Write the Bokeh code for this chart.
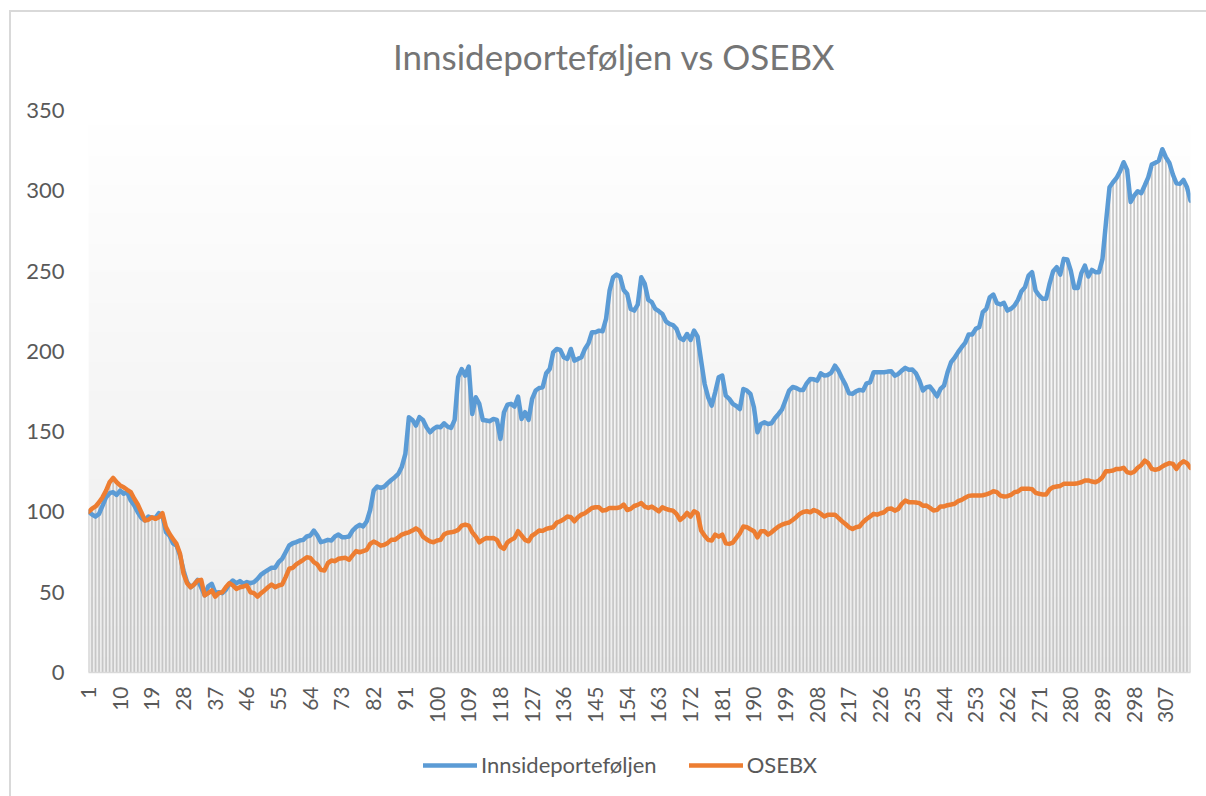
import numpy as np
from bokeh.plotting import figure
from bokeh.layouts import column
from bokeh.core.properties import value
from bokeh.models import Range1d, FixedTicker, Legend, LegendItem, ColumnDataSource
from bokeh.embed import file_html
from bokeh.resources import INLINE

TITLE = "Innsideporteføljen vs OSEBX"
SERIES_NAMES = ["Innsideporteføljen", "OSEBX"]

innside_1_80 = [100, 98.4, 97.1, 98.8, 104, 109.2, 111.7, 112.3, 110.6, 113.3,
                111.3, 112.3, 107.1, 104, 99.8, 96.3, 94.7, 97.1, 96.3, 96.3,
                99.2, 97.8, 87.4, 85.3, 80.5, 79.1, 72.9, 63.5, 56.3, 53.1,
                54.8, 57.7, 53.1, 48, 53.6, 55.2, 49.6, 50, 49.4, 51.5,
                55.2, 57.3, 55.6, 56.9, 55.2, 56.3, 55.6, 56.3, 58.3, 61,
                62.5, 63.9, 65.2, 65.2, 68.7, 70.8, 74.9, 79.1, 80.5, 81.2,
                82.2, 82.6, 84.7, 85.3, 88.4, 85.3, 81.2, 81.8, 82.6, 82.2,
                84.7, 85.9, 84.3, 84.3, 84.7, 88.4, 90.5, 92.0, 90.9, 94.0]
innside_81_156 = [101.2, 113.3, 115.8, 115.0, 115.8, 117.9, 119.9, 121.6, 123.7, 128.2,
                  136.1, 159.0, 157.3, 153.8, 159.0, 157.3, 152.7, 149.6, 151.7, 153.1,
                  152.7, 155.2, 153.1, 152.3, 157.3, 183.9, 189.0, 184.9, 190.5, 161.0,
                  171.4, 167.3, 157.3, 156.9, 156.5, 157.9, 157.3, 145.5, 162.0, 166.8,
                  167.3, 165.6, 171.8, 157.9, 162.1, 157.3, 170.4, 175.6, 177.2, 177.6,
                  186.4, 189.0, 199.4, 201.5, 200.9, 196.3, 195.3, 201.5, 194.2, 195.3,
                  196.3, 201.5, 205.0, 211.9, 211.9, 212.9, 212.5, 220.2, 237.8, 246.1,
                  247.8, 246.5, 238.2, 235.7, 226.4, 225.4]
innside_157_233 = [229.1, 246.1, 242.0, 232.0, 230.6, 226.4, 225.0, 223.3, 218.7, 217.1,
                   216.4, 214.0, 208.3, 207.1, 210.8, 207.1, 212.9, 209.2, 194.2, 179.7,
                   171.4, 166.2, 174.5, 183.9, 184.9, 172.4, 170.4, 167.3, 166.0, 164.1,
                   176.6, 175.6, 173.5, 165.2, 149.6, 154.8, 155.8, 154.8, 155.2, 158.5,
                   161.0, 163.9, 169.7, 175.6, 177.8, 177.2, 176.0, 176.0, 180.1, 182.8,
                   182.6, 181.8, 186.3, 184.9, 185.3, 186.8, 191.1, 188.0, 183.4, 179.3,
                   173.9, 173.5, 175.1, 176.0, 175.6, 180.1, 180.7, 187.0, 187.0, 187.0,
                   187.0, 187.4, 187.6, 184.9, 185.9, 188.0, 189.7]
innside_234_314 = [188.5, 188.7, 186.4, 181.8, 175.6, 177.7, 178.1, 175.2, 172.0, 176.6,
                   178.7, 187.0, 193.3, 196.0, 199.5, 202.6, 205.3, 210.5, 210.5, 214.0,
                   215.1, 224.4, 226.5, 233.7, 235.4, 230.0, 229.2, 230.2, 225.4, 226.5,
                   228.5, 232.1, 237.5, 240.0, 247.2, 249.3, 237.9, 234.8, 232.7, 232.7,
                   242.4, 249.9, 252.4, 247.8, 257.6, 257.2, 250.3, 239.5, 239.5, 248.7,
                   253.4, 246.6, 250.7, 249.3, 249.3, 257.6, 280.4, 302.2, 305.3, 308.0,
                   312.2, 317.8, 313.0, 293.0, 297.0, 299.7, 298.5, 303.3, 308.4, 316.3,
                   317.4, 318.8, 325.9, 320.9, 317.4, 310.1, 304.7, 304.3, 306.8, 302.2,
                   293.9]

osebx_1_80 = [100, 102, 103.4, 106, 109.2, 113.3, 118.5, 121.2, 118.5, 116.5,
              115.4, 113.8, 112.3, 108.2, 104.6, 99.8, 94.7, 95.1, 96.7, 95.7,
              96.7, 99.2, 90.5, 86.4, 83.2, 80.1, 73.9, 61.5, 55.6, 53.1,
              54.8, 57.3, 57.7, 48.0, 49.4, 51.1, 47.3, 49.4, 50.0, 53.1,
              55.6, 54.2, 52.1, 53.1, 53.6, 54.2, 50.0, 49.4, 47.3, 49.4,
              51.1, 53.1, 54.8, 53.1, 54.2, 54.8, 59.4, 64.6, 65.2, 67.3,
              68.7, 70.2, 71.8, 71.4, 68.7, 67.3, 63.9, 63.5, 68.1, 69.8,
              69.3, 70.8, 71.2, 71.4, 70.2, 72.9, 75.6, 74.9, 75.6, 76.4]
osebx_81_156 = [80.1, 81.5, 80.5, 79.0, 79.5, 80.7, 82.6, 82.6, 84.2, 85.9,
                86.7, 87.3, 88.4, 89.8, 88.4, 84.6, 83.0, 81.7, 81.1, 82.2,
                82.6, 85.9, 87.1, 87.3, 87.8, 88.8, 91.5, 92.1, 91.5, 87.3,
                84.6, 81.1, 82.6, 83.8, 83.6, 83.8, 82.6, 78.4, 77.0, 81.1,
                82.6, 83.8, 88.0, 85.3, 82.6, 81.7, 85.3, 86.7, 88.4, 88.2,
                89.4, 90.0, 90.5, 93.4, 94.2, 95.4, 97.1, 96.7, 94.2, 96.7,
                98.3, 99.2, 100.8, 102.5, 102.9, 102.9, 100.8, 101.2, 102.5, 102.5,
                102.5, 102.9, 104.6, 101.2, 101.9, 103.7]
osebx_157_233 = [104.4, 105.6, 103.3, 102.5, 103.3, 101.9, 100.4, 102.9, 101.9, 101.2,
                 100.8, 98.8, 95.0, 96.7, 99.4, 97.1, 100.4, 99.2, 88.4, 85.1,
                 82.6, 82.2, 85.9, 84.6, 85.9, 80.5, 80.1, 80.9, 83.8, 86.7,
                 90.9, 90.5, 89.2, 88.0, 84.2, 88.0, 88.0, 85.9, 87.3, 89.2,
                 90.9, 92.1, 92.9, 93.4, 95.0, 96.7, 98.8, 100.0, 100.4, 99.8,
                 101.2, 100.4, 98.8, 97.1, 98.3, 98.3, 98.3, 96.3, 94.2, 92.5,
                 90.5, 89.4, 90.5, 90.9, 93.6, 95.6, 97.1, 98.8, 98.3, 99.2,
                 99.8, 101.9, 102.1, 100.8, 101.9, 105.0, 107.1]
osebx_234_314 = [106.1, 106.1, 105.9, 105.5, 103.8, 104.0, 102.5, 100.9, 101.3, 103.4,
                 103.4, 104.2, 104.6, 105.1, 106.7, 107.5, 108.8, 110.0, 110.2, 110.2,
                 110.2, 110.4, 110.9, 111.7, 112.9, 112.3, 110.2, 109.6, 109.8, 110.6,
                 112.3, 112.7, 114.4, 114.4, 114.4, 114.2, 111.9, 111.3, 110.9, 110.9,
                 114.0, 115.4, 115.8, 116.2, 117.5, 117.5, 117.5, 117.5, 117.9, 118.5,
                 119.6, 119.6, 118.9, 118.5, 119.6, 121.6, 125.4, 125.4, 125.8, 126.8,
                 126.8, 127.5, 124.8, 124.1, 125.0, 127.5, 129.1, 132.0, 130.4, 126.8,
                 126.2, 126.8, 128.3, 129.5, 130.4, 129.9, 126.8, 129.9, 131.6, 130.4,
                 127.5]

innside = innside_1_80 + innside_81_156 + innside_157_233 + innside_234_314
osebx = osebx_1_80 + osebx_81_156 + osebx_157_233 + osebx_234_314
periods = list(range(1, len(innside) + 1))
x_tick_values = list(range(1, len(periods) + 1, 9))
y_tick_values = [0, 50, 100, 150, 200, 250, 300, 350]

BLUE = "#5b9bd5"
ORANGE = "#ed7d31"
TEXT = "#595959"
FONT = "Lato"


def strip(height):
    f = figure(width=1195, height=height, x_range=Range1d(0, 1), y_range=Range1d(0, 1),
               output_backend="svg", toolbar_location=None,
               x_axis_location=None, y_axis_location=None,
               min_border_left=0, min_border_right=0, min_border_top=0, min_border_bottom=0)
    f.outline_line_color = None
    f.xgrid.visible = False
    f.ygrid.visible = False
    f.border_fill_color = "white"
    f.background_fill_color = "white"
    return f


# ---- title strip ----
tt = strip(72)
tt.text(x=[0.477], y=[0.40], text=[TITLE], text_align="center", text_baseline="middle",
        text_font=value(FONT), text_font_size="35px", text_color="#757575")

# ---- main chart ----
src = ColumnDataSource(dict(
    x=periods, innside=innside, osebx=osebx,
    top=[max(a, b) for a, b in zip(innside, osebx)],
))

p = figure(width=1195, height=656,
           x_range=Range1d(periods[0], periods[-1]),
           y_range=Range1d(y_tick_values[0], y_tick_values[-1]),
           output_backend="svg", toolbar_location=None,
           min_border_left=77, min_border_right=16,
           min_border_top=26, min_border_bottom=68)
p.title.visible = False
p.outline_line_color = None
p.xgrid.visible = False
p.ygrid.visible = False
p.background_fill_color = "white"
p.border_fill_color = "white"

# plot area gradient (white at top -> light grey at bottom)
n = 256
grad = np.zeros((n, 1), dtype=np.uint32)
view = grad.view(dtype=np.uint8).reshape((n, 1, 4))
for i in range(n):
    c = int(round(236 + (255 - 236) * i / (n - 1)))
    view[i, 0, :] = [c, c, c, 255]
p.image_rgba(image=[grad], x=periods[0], y=y_tick_values[0],
             dw=periods[-1] - periods[0], dh=y_tick_values[-1] - y_tick_values[0])

# drop lines
p.segment(x0="x", y0=0, x1="x", y1="top", source=src, line_color="#c6c6c6", line_width=1.7)

p.line("x", "innside", source=src, line_color=BLUE, line_width=4.5,
       line_join="round", line_cap="round")
p.line("x", "osebx", source=src, line_color=ORANGE, line_width=4.5,
       line_join="round", line_cap="round")

p.xaxis.ticker = FixedTicker(ticks=x_tick_values)
p.xaxis.major_label_orientation = np.pi / 2
p.xaxis.major_tick_line_color = None
p.xaxis.minor_tick_line_color = None
p.xaxis.major_tick_out = 0
p.xaxis.major_tick_in = 0
p.xaxis.axis_line_color = "#d9d9d9"
p.xaxis.axis_line_width = 1.5
p.xaxis.major_label_standoff = 14
p.xaxis.major_label_text_font = FONT
p.xaxis.major_label_text_font_size = "21px"
p.xaxis.major_label_text_color = TEXT

p.yaxis.ticker = FixedTicker(ticks=y_tick_values)
p.yaxis.axis_line_color = None
p.yaxis.major_tick_line_color = None
p.yaxis.minor_tick_line_color = None
p.yaxis.major_tick_out = 0
p.yaxis.major_tick_in = 0
p.yaxis.major_label_standoff = 24
p.yaxis.major_label_text_font = FONT
p.yaxis.major_label_text_font_size = "22px"
p.yaxis.major_label_text_color = TEXT

# ---- legend strip ----
lg = strip(56)
nan = float("nan")
kb = lg.line(x=[nan], y=[nan], line_color=BLUE, line_width=4.5, line_cap="round")
ko = lg.line(x=[nan], y=[nan], line_color=ORANGE, line_width=4.5, line_cap="round")
legend = Legend(items=[LegendItem(label=SERIES_NAMES[0], renderers=[kb]),
                       LegendItem(label=SERIES_NAMES[1], renderers=[ko])],
                orientation="horizontal", location=(335, 18),
                label_text_font=FONT, label_text_font_size="22px",
                label_text_color=TEXT, glyph_width=54, glyph_height=20,
                label_standoff=4, spacing=32, border_line_color=None,
                background_fill_alpha=0, padding=0, margin=0)
lg.add_layout(legend, "center")

layout = column(tt, p, lg, spacing=0,
                styles={"border-left": "2px solid #d9d9d9",
                        "border-top": "2px solid #d9d9d9",
                        "margin-left": "9px", "margin-top": "10px"})

open("out.html", "w").write(file_html(layout, INLINE))
